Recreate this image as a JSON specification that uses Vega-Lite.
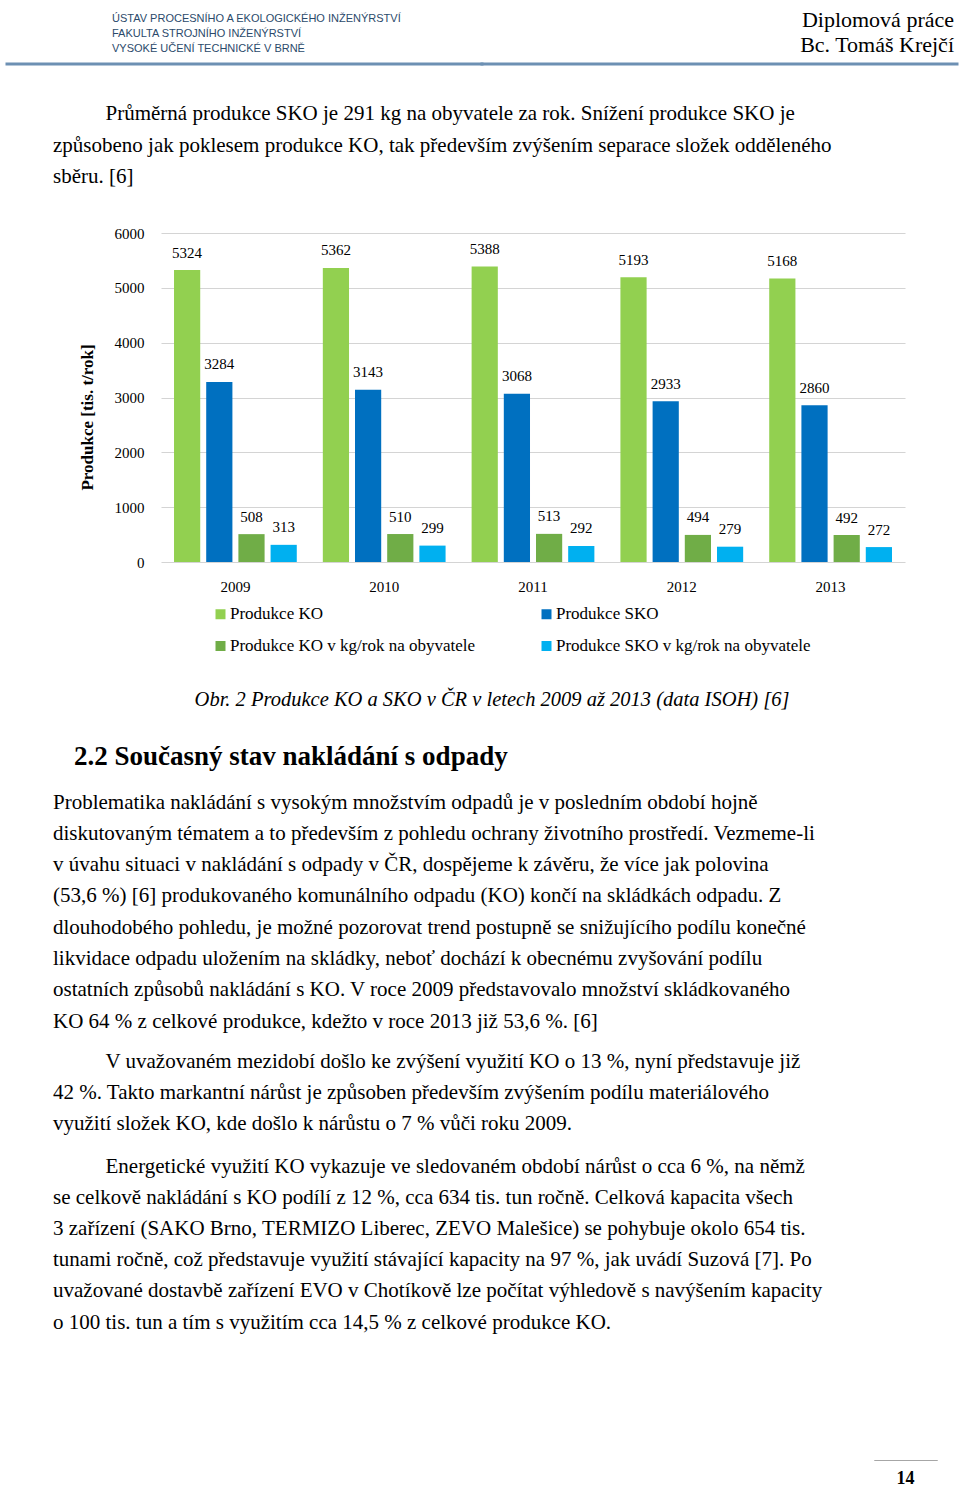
{
  "$schema": "https://vega.github.io/schema/vega-lite/v6.json",
  "background": "white",
  "padding": {"left": 5, "top": 7, "right": 0, "bottom": 0},
  "bounds": "flush",
  "spacing": 0,
  "resolve": {"scale": {"color": "independent", "xOffset": "independent"}, "legend": {"color": "independent"}},
  "config": {
    "view": {"stroke": null},
    "font": "Liberation Serif",
    "title": {"font": "Liberation Serif", "color": "#000000", "fontWeight": "normal", "frame": "group", "offset": 0, "fontSize": 21, "lineHeight": 31.2},
    "axis": {"labelFont": "Liberation Serif", "titleFont": "Liberation Serif", "labelColor": "#000000", "titleColor": "#000000"},
    "legend": {"labelFont": "Liberation Serif", "labelColor": "#000000"}
  },
  "vconcat": [
    {
      "bounds": "flush",
      "spacing": 0,
      "hconcat": [
        {
          "width": 475, "height": 0.01,
          "view": {"stroke": "#6d90b3", "strokeWidth": 3},
          "data": {"values": [{}]},
          "mark": "rule",
          "encoding": {},
          "title": {
            "text": ["ÚSTAV PROCESNÍHO A EKOLOGICKÉHO INŽENÝRSTVÍ", "FAKULTA STROJNÍHO INŽENÝRSTVÍ", "VYSOKÉ UČENÍ TECHNICKÉ V BRNĚ"],
            "orient": "top", "anchor": "start", "dx": 105, "offset": 10,
            "font": "Liberation Sans Narrow, Liberation Sans, sans-serif", "fontSize": 11, "lineHeight": 15, "color": "#2b4a6b"
          }
        },
        {
          "width": 475, "height": 0.01,
          "view": {"stroke": "#6d90b3", "strokeWidth": 3},
          "data": {"values": [{}]},
          "mark": "rule",
          "encoding": {},
          "title": {
            "text": ["Diplomová práce", "Bc. Tomáš Krejčí"],
            "orient": "top", "anchor": "end", "dx": -3, "offset": 7,
            "fontSize": 22, "lineHeight": 25
          }
        }
      ]
    },
    {
      "width": 950, "height": 169,
      "data": {"values": [{}]},
      "mark": "rule",
      "encoding": {}
    },
    {
      "bounds": "flush",
      "spacing": 0,
      "resolve": {"scale": {"color": "independent", "xOffset": "independent"}, "legend": {"color": "independent"}},
      "hconcat": [
        {
          "width": 154, "height": 329,
          "data": {"values": [{}]},
          "mark": "rule",
          "encoding": {},
          "title": {
            "text": "Obr. 2 Produkce KO a SKO v ČR v letech 2009 až 2013 (data ISOH) [6]",
            "orient": "bottom", "anchor": "middle", "dx": 408, "offset": 128,
            "fontStyle": "italic", "fontSize": 20.5
          }
        },
        {
          "width": 744, "height": 329,
          "title": {
            "text": ["\u200b\u00a0\u00a0\u00a0\u00a0\u00a0\u00a0\u00a0\u00a0\u00a0\u00a0Průměrná produkce SKO je 291 kg na obyvatele za rok. Snížení produkce SKO je", "způsobeno jak poklesem produkce KO, tak především zvýšením separace složek odděleného", "sběru. [6]"],
            "orient": "top", "anchor": "start", "dx": -108, "offset": 39, "fontSize": 21, "lineHeight": 31.3
          },
          "data": {
            "values": [
              {"rok": "2009", "serie": "Produkce KO", "hodnota": 5324},
              {"rok": "2009", "serie": "Produkce SKO", "hodnota": 3284},
              {"rok": "2009", "serie": "Produkce KO v kg/rok na obyvatele", "hodnota": 508},
              {"rok": "2009", "serie": "Produkce SKO v kg/rok na obyvatele", "hodnota": 313},
              {"rok": "2010", "serie": "Produkce KO", "hodnota": 5362},
              {"rok": "2010", "serie": "Produkce SKO", "hodnota": 3143},
              {"rok": "2010", "serie": "Produkce KO v kg/rok na obyvatele", "hodnota": 510},
              {"rok": "2010", "serie": "Produkce SKO v kg/rok na obyvatele", "hodnota": 299},
              {"rok": "2011", "serie": "Produkce KO", "hodnota": 5388},
              {"rok": "2011", "serie": "Produkce SKO", "hodnota": 3068},
              {"rok": "2011", "serie": "Produkce KO v kg/rok na obyvatele", "hodnota": 513},
              {"rok": "2011", "serie": "Produkce SKO v kg/rok na obyvatele", "hodnota": 292},
              {"rok": "2012", "serie": "Produkce KO", "hodnota": 5193},
              {"rok": "2012", "serie": "Produkce SKO", "hodnota": 2933},
              {"rok": "2012", "serie": "Produkce KO v kg/rok na obyvatele", "hodnota": 494},
              {"rok": "2012", "serie": "Produkce SKO v kg/rok na obyvatele", "hodnota": 279},
              {"rok": "2013", "serie": "Produkce KO", "hodnota": 5168},
              {"rok": "2013", "serie": "Produkce SKO", "hodnota": 2860},
              {"rok": "2013", "serie": "Produkce KO v kg/rok na obyvatele", "hodnota": 492},
              {"rok": "2013", "serie": "Produkce SKO v kg/rok na obyvatele", "hodnota": 272}
            ]
          },
          "encoding": {
            "x": {
              "field": "rok", "type": "nominal",
              "scale": {"paddingInner": 0.175, "paddingOuter": 0.0875},
              "axis": {"title": null, "labelAngle": 0, "ticks": false, "domain": false, "labelPadding": 17, "labelFontSize": 15}
            },
            "xOffset": {
              "field": "serie", "type": "nominal",
              "sort": ["Produkce KO", "Produkce SKO", "Produkce KO v kg/rok na obyvatele", "Produkce SKO v kg/rok na obyvatele"],
              "scale": {"paddingInner": 0.186, "paddingOuter": 0}
            },
            "y": {
              "field": "hodnota", "type": "quantitative",
              "scale": {"domain": [0, 6000]},
              "axis": {
                "values": [0, 1000, 2000, 3000, 4000, 5000, 6000], "format": "d",
                "title": "Produkce [tis. t/rok]", "titleFontWeight": "bold", "titleFontSize": 17, "titlePadding": 18, "titleY": 184,
                "labelPadding": 17, "labelFontSize": 15, "ticks": false, "domain": false,
                "grid": true, "gridColor": "#d4d4d4", "gridWidth": 1.2
              }
            }
          },
          "layer": [
            {
              "mark": {"type": "bar"},
              "encoding": {
                "color": {
                  "field": "serie", "type": "nominal",
                  "sort": ["Produkce KO", "Produkce SKO", "Produkce KO v kg/rok na obyvatele", "Produkce SKO v kg/rok na obyvatele"],
                  "scale": {
                    "domain": ["Produkce KO", "Produkce SKO", "Produkce KO v kg/rok na obyvatele", "Produkce SKO v kg/rok na obyvatele"],
                    "range": ["#92d050", "#0070c0", "#70ad47", "#00b0f0"]
                  },
                  "legend": {
                    "orient": "none", "legendX": 51, "legendY": 372.5,
                    "title": null, "columns": 2, "direction": "horizontal",
                    "symbolType": "square", "symbolSize": 100, "symbolStrokeWidth": 0, "symbolOpacity": 1,
                    "labelFontSize": 17, "labelLimit": 500, "labelOffset": 1,
                    "columnPadding": 62, "rowPadding": 14, "padding": 0
                  }
                }
              }
            },
            {
              "mark": {"type": "text", "baseline": "alphabetic", "dy": -12.5, "fontSize": 15, "font": "Liberation Serif", "color": "#000000"},
              "encoding": {
                "text": {"field": "hodnota", "type": "quantitative", "format": "d"}
              }
            }
          ]
        }
      ]
    },
    {
      "width": 950, "height": 0.01,
      "data": {"values": [{}]},
      "mark": "rule",
      "encoding": {},
      "title": {
        "text": "2.2 Současný stav nakládání s odpady",
        "orient": "bottom", "anchor": "start", "dx": 67, "offset": 510,
        "fontSize": 27, "fontWeight": "bold"
      }
    },
    {
      "width": 950, "height": 0.01,
      "data": {"values": [{}]},
      "mark": "rule",
      "encoding": {},
      "title": {
        "text": [
          "Problematika nakládání s vysokým množstvím odpadů je v posledním období hojně",
          "diskutovaným tématem a to především z pohledu ochrany životního prostředí. Vezmeme-li",
          "v úvahu situaci v nakládání s odpady v ČR, dospějeme k závěru, že více jak polovina",
          "(53,6 %) [6] produkovaného komunálního odpadu (KO) končí na skládkách odpadu. Z",
          "dlouhodobého pohledu, je možné pozorovat trend postupně se snižujícího podílu konečné",
          "likvidace odpadu uložením na skládky, neboť dochází k obecnému zvyšování podílu",
          "ostatních způsobů nakládání s KO. V roce 2009 představovalo množství skládkovaného",
          "KO 64 % z celkové produkce, kdežto v roce 2013 již 53,6 %. [6]"
        ],
        "orient": "bottom", "anchor": "start", "dx": 46, "offset": 557, "lineHeight": 31.3
      }
    },
    {
      "width": 950, "height": 0.01,
      "data": {"values": [{}]},
      "mark": "rule",
      "encoding": {},
      "title": {
        "text": [
          "\u200b\u00a0\u00a0\u00a0\u00a0\u00a0\u00a0\u00a0\u00a0\u00a0\u00a0V uvažovaném mezidobí došlo ke zvýšení využití KO o 13 %, nyní představuje již",
          "42 %. Takto markantní nárůst je způsoben především zvýšením podílu materiálového",
          "využití složek KO, kde došlo k nárůstu o 7 % vůči roku 2009."
        ],
        "orient": "bottom", "anchor": "start", "dx": 46, "offset": 815, "lineHeight": 31.1
      }
    },
    {
      "width": 950, "height": 0.01,
      "data": {"values": [{}]},
      "mark": "rule",
      "encoding": {},
      "title": {
        "text": [
          "\u200b\u00a0\u00a0\u00a0\u00a0\u00a0\u00a0\u00a0\u00a0\u00a0\u00a0Energetické využití KO vykazuje ve sledovaném období nárůst o cca 6 %, na němž",
          "se celkově nakládání s KO podílí z 12 %, cca 634 tis. tun ročně. Celková kapacita všech",
          "3 zařízení (SAKO Brno, TERMIZO Liberec, ZEVO Malešice) se pohybuje okolo 654 tis.",
          "tunami ročně, což představuje využití stávající kapacity na 97 %, jak uvádí Suzová [7]. Po",
          "uvažované dostavbě zařízení EVO v Chotíkově lze počítat výhledově s navýšením kapacity",
          "o 100 tis. tun a tím s využitím cca 14,5 % z celkové produkce KO."
        ],
        "orient": "bottom", "anchor": "start", "dx": 46, "offset": 919, "lineHeight": 31.2
      }
    },
    {
      "width": 950, "height": 1223,
      "data": {"values": [{}]},
      "mark": "rule",
      "encoding": {}
    },
    {
      "bounds": "flush",
      "spacing": 0,
      "hconcat": [
        {
          "width": 867, "height": 0.01,
          "data": {"values": [{}]},
          "mark": "rule",
          "encoding": {}
        },
        {
          "width": 63, "height": 0.01,
          "view": {"stroke": "#a6a6a6", "strokeWidth": 1},
          "data": {"values": [{}]},
          "mark": "rule",
          "encoding": {},
          "title": {
            "text": "14",
            "orient": "bottom", "anchor": "middle", "offset": 9,
            "fontSize": 18, "fontWeight": "bold"
          }
        }
      ]
    }
  ]
}
